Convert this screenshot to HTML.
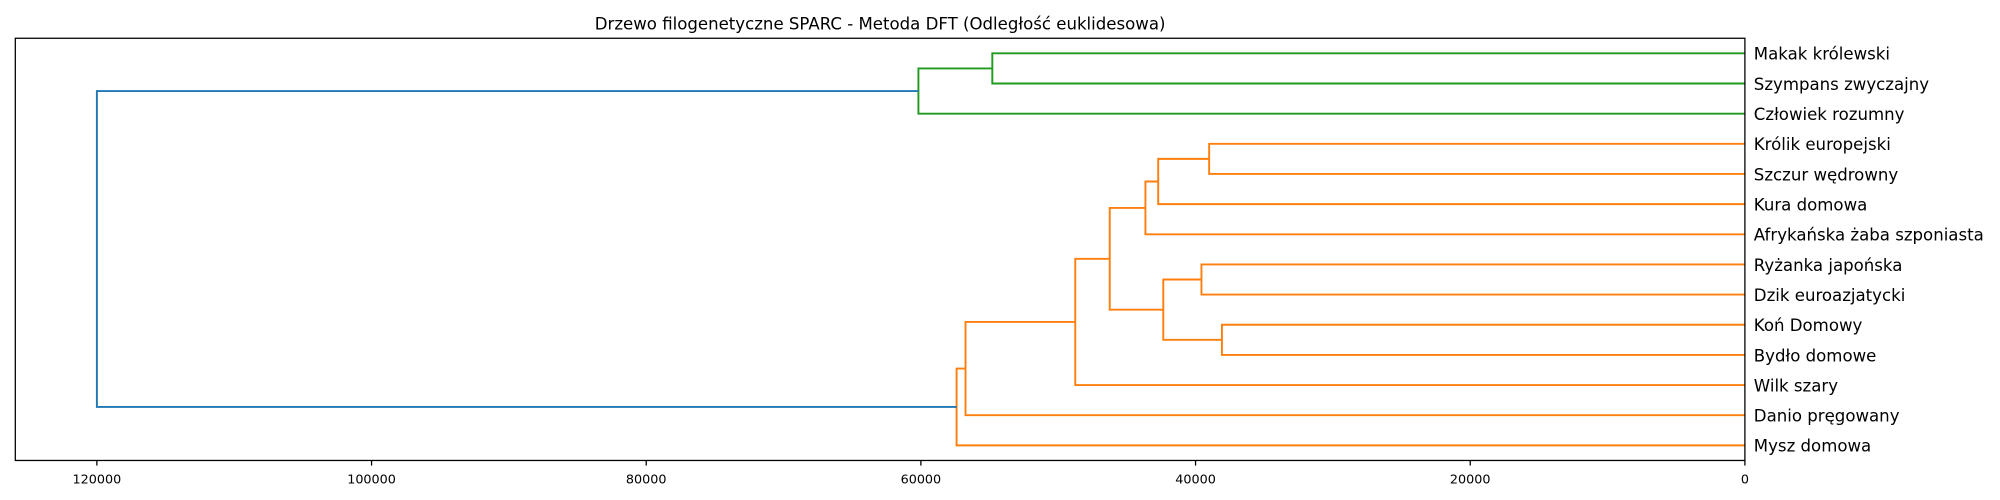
<!DOCTYPE html>
<html><head><meta charset="utf-8"><style>
html,body{margin:0;padding:0;background:#fff;}
svg{display:block;font-family:"DejaVu Sans","Liberation Sans",sans-serif;}
</style></head><body>
<svg id="chart" width="2000" height="500" viewBox="0 0 1568 392">
<text x="690" y="23" font-size="13" text-anchor="middle" fill="#000">Drzewo filogenetyczne SPARC - Metoda DFT (Odległość euklidesowa)</text>
<g id="links"></g>
<rect x="12" y="30" width="1356" height="331" fill="none" stroke="#000" stroke-width="1"/>
<g id="xaxis"></g>
<g id="labels"></g>
</svg>
<script>
const leaves = ["Makak królewski","Szympans zwyczajny","Człowiek rozumny","Królik europejski","Szczur wędrowny","Kura domowa","Afrykańska żaba szponiasta","Ryżanka japońska","Dzik euroazjatycki","Koń Domowy","Bydło domowe","Wilk szary","Danio pręgowany","Mysz domowa"];
const mergeLeft = [0,14,3,16,17,7,9,19,18,22,23,24,15];
const mergeRight = [1,2,4,5,6,8,10,20,21,11,12,13,25];
const mergeHeight = [54800,60180,39010,42720,43650,39570,38080,42350,46250,48760,56750,57400,120000];
const mergeColor = ["#1f9a1f","#1f9a1f","#ff7f0e","#ff7f0e","#ff7f0e","#ff7f0e","#ff7f0e","#ff7f0e","#ff7f0e","#ff7f0e","#ff7f0e","#ff7f0e","#1f77b4"];
const xTicks = [0,20000,40000,60000,80000,100000,120000];

const NS="http://www.w3.org/2000/svg";
const X0=1368, XMAX=12, VMAX=125940;
const xScale = v => X0 - (X0-XMAX)*v/VMAX;
const Y0=30, YH=331, N=leaves.length;
const yScale = i => Y0 + YH*(i*10+5)/(N*10);

const pos = [];
leaves.forEach((l,i)=>pos.push([yScale(i),0]));
const linkG=document.getElementById('links');
for(let k=0;k<mergeHeight.length;k++){
  const a=pos[mergeLeft[k]], b=pos[mergeRight[k]], h=mergeHeight[k];
  const xh=xScale(h);
  const p=document.createElementNS(NS,'path');
  p.setAttribute('d',`M${xScale(a[1])},${a[0]}H${xh}V${b[0]}H${xScale(b[1])}`);
  p.setAttribute('fill','none');
  p.setAttribute('stroke',mergeColor[k]);
  p.setAttribute('stroke-width','1.5');
  
  
  linkG.appendChild(p);
  pos.push([(a[0]+b[0])/2,h]);
}
const lg=document.getElementById('labels');
leaves.forEach((l,i)=>{
  const t=document.createElementNS(NS,'text');
  t.setAttribute('x',1375);t.setAttribute('y',yScale(i)+5);
  t.setAttribute('font-size','13');
  t.textContent=l;
  
  
  lg.appendChild(t);
});
const xg=document.getElementById('xaxis');
xTicks.forEach(v=>{
  const x=xScale(v);
  const ln=document.createElementNS(NS,'line');
  ln.setAttribute('x1',x);ln.setAttribute('x2',x);ln.setAttribute('y1',361);ln.setAttribute('y2',365);
  ln.setAttribute('stroke','#000');
  
  
  xg.appendChild(ln);
  const t=document.createElementNS(NS,'text');
  t.setAttribute('x',x);t.setAttribute('y',379);
  t.setAttribute('font-size','10');t.setAttribute('text-anchor','middle');
  t.textContent=v;
  
  
  xg.appendChild(t);
});
</script>
</body></html>
